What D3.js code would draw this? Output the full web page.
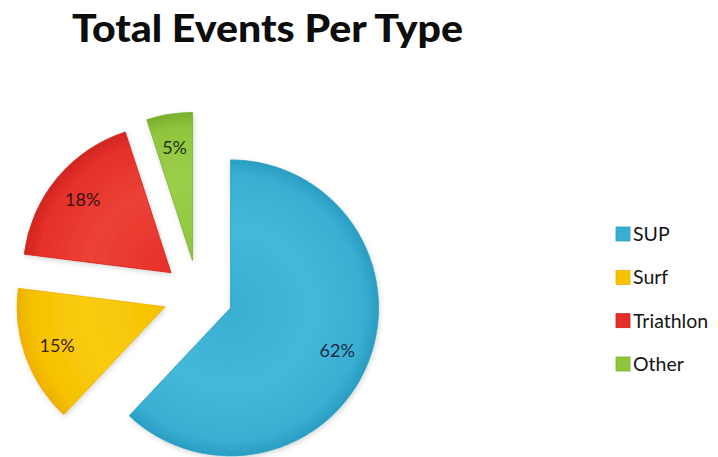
<!DOCTYPE html>
<html>
<head>
<meta charset="utf-8">
<script src="https://cdn.jsdelivr.net/npm/d3@7/dist/d3.min.js"></script>
<style>
  html, body { margin: 0; padding: 0; background: #ffffff; }
  svg { display: block; }
</style>
</head>
<body>
<svg id="chart" width="718" height="457"></svg>
<script>
// Event counts by type (percent share)
const categories = ["SUP", "Surf", "Triathlon", "Other"];
const shares = [62, 15, 18, 5];
const pctLabels = ["62%", "15%", "18%", "5%"];

const baseColors = ["#39afd2", "#f6c200", "#e5302a", "#8fc53c"];
const edgeColors = ["#2a9dc2", "#eeb000", "#d02620", "#7aae2e"];
const lightColors = ["#45b8da", "#f9cc10", "#ec4236", "#9bce4a"];
const labelColors = ["#1b2c46", "#3d2410", "#3a1212", "#1c3412"];

const W = 718, H = 457;
const cx = 198, cy = 295;
const radius = 148;
const explode = 35;

const svg = d3.select("#chart");
const defs = svg.append("defs");

// soft drop shadow under each wedge
const shadow = defs.append("filter").attr("id", "wedgeShadow")
  .attr("x", "-20%").attr("y", "-20%").attr("width", "140%").attr("height", "140%");
shadow.append("feDropShadow").attr("dx", 1).attr("dy", 2)
  .attr("stdDeviation", 2.5).attr("flood-color", "#000").attr("flood-opacity", 0.16);

// radial shading for each wedge, slightly lighter toward the middle of the slice
categories.forEach((c, i) => {
  const g = defs.append("radialGradient").attr("id", "grad" + i)
    .attr("gradientUnits", "userSpaceOnUse")
    .attr("cx", 0).attr("cy", 0).attr("r", radius);
  g.append("stop").attr("offset", "0%").attr("stop-color", baseColors[i]);
  g.append("stop").attr("offset", "55%").attr("stop-color", lightColors[i]);
  g.append("stop").attr("offset", "90%").attr("stop-color", baseColors[i]);
  g.append("stop").attr("offset", "100%").attr("stop-color", edgeColors[i]);
});

// title
svg.append("text")
  .attr("x", 72).attr("y", 42)
  .attr("font-family", "Lato, 'Open Sans', sans-serif")
  .attr("font-weight", 900)
  .attr("font-size", 37)
  .attr("fill", "#0d0d0d")
  .attr("textLength", 391)
  .attr("lengthAdjust", "spacingAndGlyphs")
  .text("Total Events Per Type");

const pie = d3.pie().sort(null).value(d => d).startAngle(0).endAngle(2 * Math.PI);
const arcs = pie(shares);
const arc = d3.arc().innerRadius(0).outerRadius(radius);

const pieG = svg.append("g").attr("transform", `translate(${cx},${cy})`);

const wedges = pieG.selectAll("g.wedge").data(arcs).enter().append("g")
  .attr("class", "wedge")
  .attr("transform", d => {
    const mid = (d.startAngle + d.endAngle) / 2;
    return `translate(${explode * Math.sin(mid)},${-explode * Math.cos(mid)})`;
  });

wedges.append("path")
  .attr("d", arc)
  .attr("fill", (d, i) => `url(#grad${i})`)
  .attr("stroke", (d, i) => edgeColors[i])
  .attr("stroke-width", 0.8)
  .attr("filter", "url(#wedgeShadow)");

wedges.append("text")
  .attr("transform", d => {
    const mid = (d.startAngle + d.endAngle) / 2;
    const r = radius * 0.775;
    return `translate(${r * Math.sin(mid)},${-r * Math.cos(mid)})`;
  })
  .attr("text-anchor", "middle")
  .attr("dy", "0.36em")
  .attr("font-family", "Lato, 'Open Sans', sans-serif")
  .attr("font-size", 18)
  .attr("fill", (d, i) => labelColors[i])
  .text((d, i) => pctLabels[i]);

// legend
const legend = svg.append("g").attr("transform", "translate(616,0)");
const legendY = d3.scalePoint().domain(categories).range([241, 371]);

const items = legend.selectAll("g.item").data(categories).enter().append("g")
  .attr("class", "item")
  .attr("transform", d => `translate(0,${legendY(d)})`);

items.append("rect")
  .attr("x", 0).attr("y", -14)
  .attr("width", 14).attr("height", 14)
  .attr("fill", (d, i) => baseColors[i])
  .attr("stroke", (d, i) => edgeColors[i])
  .attr("stroke-width", 0.8);

items.append("text")
  .attr("x", 17).attr("y", 0)
  .attr("font-family", "Lato, 'Open Sans', sans-serif")
  .attr("font-size", 19.5)
  .attr("fill", "#141414")
  .text(d => d);
</script>
</body>
</html>
